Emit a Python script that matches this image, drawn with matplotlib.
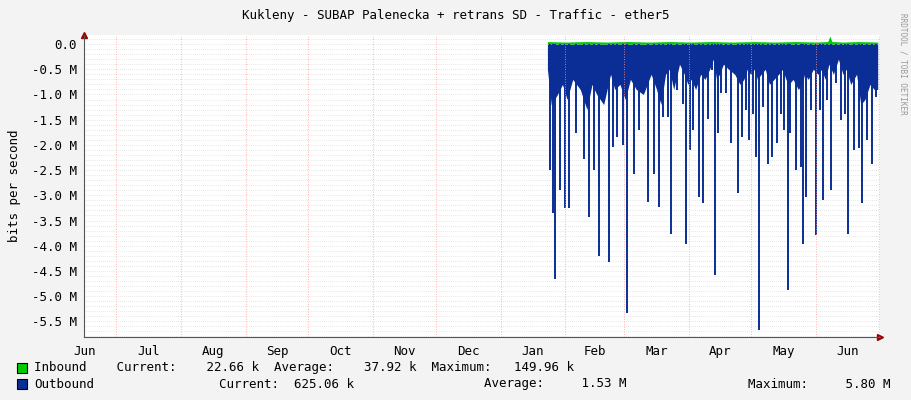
import matplotlib
matplotlib.use("Agg")
import matplotlib.pyplot as plt
import numpy as np

# days since Jun 1 of first year
month_names = ["Jun", "Jul", "Aug", "Sep", "Oct", "Nov", "Dec", "Jan", "Feb", "Mar", "Apr", "May", "Jun"]
month_starts = [0, 30, 61, 92, 122, 153, 183, 214, 245, 273, 304, 334, 365, 395]

spike_days = [237.4, 239.0, 239.9, 242.5, 244.7, 246.9, 250.1, 254.1, 256.5, 258.9, 261.0, 265.7, 267.6, 269.6,
              272.7, 274.5, 277.7, 280.1, 284.5, 287.6, 289.6, 291.9, 293.9, 295.5, 298.2, 301.1, 302.7, 304.6,
              305.9, 308.7, 310.7, 313.0, 315.1, 316.6, 318.0, 319.4, 321.8, 324.4, 327.5, 329.5, 331.4, 332.6,
              334.6, 336.1, 337.7, 339.6, 341.7, 343.6, 346.0, 348.1, 349.8, 351.3, 352.6, 355.3, 357.6, 358.8,
              360.0, 362.4, 364.8, 366.9, 368.3, 370.1, 372.1, 374.4, 376.8, 378.8, 380.0, 383.1, 385.5, 387.1,
              389.5, 391.9, 393.5]
spike_vals = [2.5, 3.36, 4.65, 2.9, 3.26, 3.26, 1.77, 2.27, 3.43, 2.5, 4.2, 4.32, 2.04, 1.84,
              2.0, 5.34, 2.57, 1.7, 3.13, 2.57, 3.23, 1.44, 1.44, 3.76, 0.91, 1.18, 3.96, 2.1,
              1.71, 3.03, 3.16, 1.48, 0.52, 4.58, 1.77, 0.98, 0.98, 1.97, 2.96, 1.84, 1.31, 1.9,
              1.38, 2.24, 5.67, 1.24, 2.37, 2.24, 1.97, 1.38, 1.71, 4.88, 1.77, 2.5, 2.43, 3.96,
              3.03, 1.31, 3.79, 1.31, 3.1, 1.11, 2.9, 0.78, 1.51, 1.38, 3.76, 2.1, 2.07, 3.16,
              1.9, 2.37, 1.05]
base_days = [236.4, 238.2, 241.2, 243.6, 245.8, 248.5, 252.1, 255.3, 257.7, 260.0, 263.3, 266.6, 268.6, 271.1,
             273.6, 276.1, 278.9, 282.3, 286.0, 288.6, 290.7, 292.9, 294.7, 296.8, 299.6, 301.9, 303.6, 305.2,
             307.3, 309.7, 311.8, 314.0, 315.8, 317.3, 318.7, 320.6, 323.1, 326.0, 328.5, 330.4, 332.0, 333.6,
             335.3, 336.9, 338.6, 340.6, 342.6, 344.8, 347.0, 348.9, 350.5, 351.9, 353.9, 356.4, 358.2, 359.4,
             361.2, 363.6, 365.8, 367.6, 369.2, 371.1, 373.2, 375.6, 377.8, 379.4, 381.5, 384.3, 386.3, 388.3,
             390.7, 392.7, 394.4]
base_vals = [0.5, 1.2, 1.0, 0.8, 1.1, 0.7, 0.9, 1.3, 0.8, 1.0, 1.2, 0.6, 0.9, 0.8,
             1.1, 0.7, 0.9, 1.0, 0.6, 0.9, 1.2, 0.6, 0.5, 0.9, 0.4, 0.6, 0.8, 0.7,
             0.9, 0.6, 0.7, 0.5, 0.3, 0.7, 0.6, 0.4, 0.5, 0.6, 0.8, 0.7, 0.5, 0.6,
             0.5, 0.7, 0.6, 0.5, 0.8, 0.7, 0.6, 0.5, 0.7, 0.8, 0.7, 0.9, 0.8, 0.6,
             0.7, 0.5, 0.6, 0.5, 0.7, 0.4, 0.6, 0.3, 0.6, 0.5, 0.8, 0.6, 1.2, 1.1,
             0.8, 0.9, 0.9]
in_days = [236.4, 245.0, 255.0, 265.0, 275.0, 285.0, 295.0, 305.0, 315.0, 325.0, 335.0, 345.0, 355.0, 365.0,
           370.5, 371.5, 372.5, 378.0, 385.0, 394.4]
in_vals = [0.05, 0.04, 0.05, 0.04, 0.05, 0.04, 0.05, 0.04, 0.05, 0.04, 0.05, 0.04, 0.05, 0.04,
           0.05, 0.16, 0.05, 0.04, 0.05, 0.04]

bd = np.array(base_days)
bv = -np.array(base_vals)
sd = np.array(spike_days)
sv = -np.array(spike_vals)
blue = "#0a2e96"

fig = plt.figure(figsize=(9.11, 4.0), dpi=100, facecolor="#f3f3f3")
ax = fig.add_axes([84/911, 1-337/400, 796/911, 302/400])
ax.set_facecolor("white")
mono = "DejaVu Sans Mono"
fs = 9

ax.fill_between(bd, bv, 0, color=blue, lw=0)
ax.vlines(sd, sv, 0, color=blue, lw=1.4)
ax.fill_between(in_days, in_vals, 0, color="#00cc00", lw=0)

ax.set_xlim(14.7, 395.5)
ax.set_ylim(-5.81, 0.18)
for yy in np.arange(-5.8, 0.15, 0.1):
    ax.axhline(yy, color="#d0d0d0", lw=0.5, ls=(0, (1, 2)), zorder=0)
for m in month_starts[1:-1] + [395]:
    ax.axvline(m, color="#ff9999", lw=0.6, ls=(0, (1, 2)), zorder=3)

yt = np.arange(0, -5.6, -0.5)
ax.set_yticks(yt)
ax.set_yticklabels(["0.0"] + ["%.1f M" % t for t in yt[1:]], fontfamily=mono, fontsize=fs)
centers = [(month_starts[i] + month_starts[i+1]) / 2 for i in range(len(month_names))]
centers[0] = 15.0
ax.set_xticks(centers)
ax.set_xticklabels(month_names, fontfamily=mono, fontsize=fs)
ax.tick_params(length=0, pad=5)
ax.tick_params(axis="x", pad=6)
for s in ["top", "right"]:
    ax.spines[s].set_visible(False)
ax.spines["left"].set_color("#555555")
ax.spines["bottom"].set_color("#555555")
ax.plot(1, 0, ">", transform=ax.transAxes, color="#990000", ms=4, clip_on=False)
ax.plot(0, 1, "^", transform=ax.transAxes, color="#990000", ms=4, clip_on=False)
ax.set_ylabel("bits per second", fontfamily=mono, fontsize=fs, labelpad=8)

fig.text(0.5, 1-15/400, "Kukleny - SUBAP Palenecka + retrans SD - Traffic - ether5",
         ha="center", va="center", fontfamily=mono, fontsize=fs)
fig.text(903/911, 0.84, "RRDTOOL / TOBI OETIKER", rotation=270, ha="center", va="center",
         fontfamily=mono, fontsize=5.5, color="#999999")

fig.patches.append(plt.Rectangle((17/911, 1-373/400), 10/911, 10/400, transform=fig.transFigure,
                                 facecolor="#00cc00", edgecolor="black", lw=0.8))
fig.patches.append(plt.Rectangle((17/911, 1-389/400), 10/911, 10/400, transform=fig.transFigure,
                                 facecolor=blue, edgecolor="black", lw=0.8))
fig.text(34/911, 1-368/400, "Inbound    Current:    22.66 k  Average:    37.92 k  Maximum:   149.96 k",
         va="center", fontfamily=mono, fontsize=fs)
fig.text(34/911, 1-384/400, "Outbound", va="center", fontfamily=mono, fontsize=fs)
fig.text(219/911, 1-384/400, "Current:  625.06 k", va="center", fontfamily=mono, fontsize=fs)
fig.text(484/911, 1-384/400, "Average:     1.53 M", va="center", fontfamily=mono, fontsize=fs)
fig.text(748/911, 1-384/400, "Maximum:     5.80 M", va="center", fontfamily=mono, fontsize=fs)

fig.savefig("out.png", dpi=100, facecolor=fig.get_facecolor())
